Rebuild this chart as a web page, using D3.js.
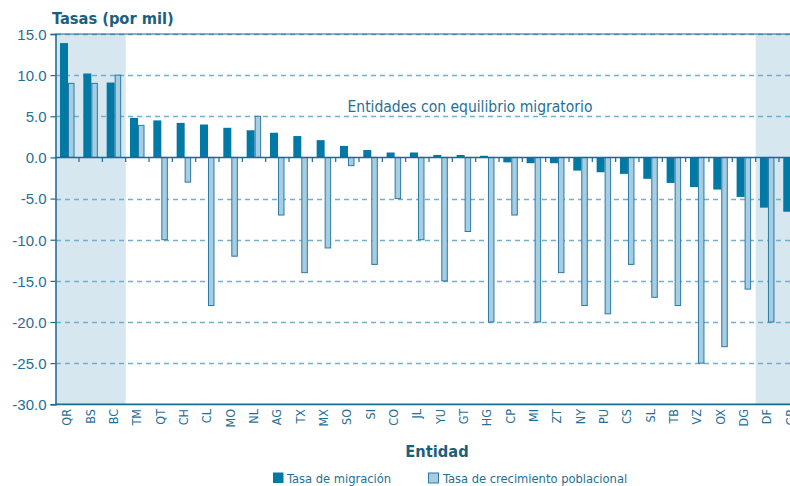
<!DOCTYPE html>
<html><head><meta charset="utf-8">
<script src="https://cdn.jsdelivr.net/npm/d3@7"></script>
<style>
html,body{margin:0;padding:0;background:#fff;overflow:hidden}
svg{display:block;font-family:"DejaVu Sans Condensed","DejaVu Sans",sans-serif}
</style></head>
<body><svg id="c" width="790" height="486"></svg>
<script>
const categories = ["QR","BS","BC","TM","QT","CH","CL","MO","NL","AG","TX","MX","SO","SI","CO","JL","YU","GT","HG","CP","MI","ZT","NY","PU","CS","SL","TB","VZ","OX","DG","DF","GR"];
const migracion = [13.9,10.2,9.1,4.8,4.5,4.2,4.0,3.6,3.3,3.0,2.6,2.1,1.4,0.9,0.6,0.6,0.3,0.3,0.2,-0.6,-0.7,-0.7,-1.6,-1.8,-2.0,-2.6,-3.1,-3.6,-3.9,-4.8,-6.1,-6.6];
const crecimiento = [9,9,10,3.9,-10,-3,-18,-12,5,-7,-14,-11,-1,-13,-5,-10,-15,-9,-20,-7,-20,-14,-18,-19,-13,-17,-18,-25,-23,-16,-20,-18];
const yTicks = [15,10,5,0,-5,-10,-15,-20,-25,-30];
const shadedLeft = ["QR","BS","BC"];
const shadedRight = ["DF","GR"];
const seriesNames = ["Tasa de migración","Tasa de crecimiento poblacional"];

const dark = "#0079a4", light = "#a6cde1", stroke = "#2a7aa5", shade = "#d7e7f0";
const textC = "#1f6f98", titleC = "#1b5f80", gridC = "#72b0cf", axisC = "#1a6a92";

const svg = d3.select("#c");
const x = d3.scaleBand().domain(categories).range([55.7, 802.3]).paddingInner(0).paddingOuter(0);
const y = d3.scaleLinear().domain([-30, 15]).range([404.3, 34]);
const bw = x.bandwidth();

// shaded regions
svg.append("rect").attr("x", x(shadedLeft[0])).attr("y", y(15))
  .attr("width", x(shadedLeft[shadedLeft.length-1]) + bw - x(shadedLeft[0])).attr("height", y(-30)-y(15)).attr("fill", shade);
svg.append("rect").attr("x", x(shadedRight[0])).attr("y", y(15))
  .attr("width", x(shadedRight[shadedRight.length-1]) + bw - x(shadedRight[0])).attr("height", y(-30)-y(15)).attr("fill", shade);

// grid
svg.append("g").selectAll("line").data(yTicks.filter(d => d !== 0 && d !== -30)).join("line")
  .attr("x1", 56).attr("x2", 790).attr("y1", d => Math.round(y(d))+0.5).attr("y2", d => Math.round(y(d))+0.5)
  .attr("stroke", gridC).attr("stroke-width", 1.3).attr("stroke-dasharray", "5,4");
// top frame solid
svg.append("line").attr("x1", 55).attr("x2", 790).attr("y1", y(15)).attr("y2", y(15)).attr("stroke", axisC).attr("stroke-width", 1);

// bars
const g = svg.append("g");
g.selectAll("rect.m").data(categories).join("rect").attr("class","m")
  .attr("x", d => x(d) + 4.3).attr("width", 8)
  .attr("y", (d,i) => y(Math.max(0, migracion[i])))
  .attr("height", (d,i) => Math.abs(y(migracion[i]) - y(0)))
  .attr("fill", dark);
g.selectAll("rect.c").data(categories).join("rect").attr("class","c")
  .attr("x", d => x(d) + 12.8).attr("width", 5.5)
  .attr("y", (d,i) => y(Math.max(0, crecimiento[i])))
  .attr("height", (d,i) => Math.abs(y(crecimiento[i]) - y(0)))
  .attr("fill", light).attr("stroke", stroke).attr("stroke-width", 1);

// zero line + ticks
svg.append("line").attr("x1", 55).attr("x2", 790).attr("y1", y(0)).attr("y2", y(0)).attr("stroke", axisC).attr("stroke-width", 1.5);
svg.append("g").selectAll("line").data(categories.slice(1)).join("line")
  .attr("x1", d => x(d)).attr("x2", d => x(d)).attr("y1", y(0)).attr("y2", y(0)+4.5)
  .attr("stroke", axisC).attr("stroke-width", 1.2);

// bottom axis
svg.append("line").attr("x1", 55).attr("x2", 790).attr("y1", y(-30)).attr("y2", y(-30)).attr("stroke", axisC).attr("stroke-width", 1.8);

// y axis
const yAxis = d3.axisLeft(y).tickValues(yTicks).tickFormat(d3.format(".1f")).tickSize(5).tickPadding(4);
const ya = svg.append("g").attr("transform", "translate(55.5,0)").call(yAxis);
ya.select(".domain").attr("stroke", axisC).attr("stroke-width", 1.5);
ya.selectAll(".tick line").attr("stroke", axisC).attr("stroke-width", 1.2);
ya.selectAll(".tick text").attr("fill", textC).attr("font-size", 15).attr("font-family", "inherit").attr("dy", "0.36em").text(d => d3.format(".1f")(d).replace("\u2212", "-"));

// x labels
svg.append("g").selectAll("text").data(categories).join("text")
  .attr("transform", d => `translate(${x(d) + bw/2 + 4},409) rotate(-90)`)
  .attr("text-anchor", "end").attr("fill", textC).attr("font-size", 12.5).text(d => d);

// titles
svg.append("text").attr("x", 52).attr("y", 24).attr("font-weight", "bold").attr("font-size", 16.3).attr("fill", titleC).text("Tasas (por mil)");
svg.append("text").attr("x", 437).attr("y", 457).attr("text-anchor", "middle").attr("font-weight", "bold").attr("font-size", 16.3).attr("fill", titleC).text("Entidad");
svg.append("text").attr("x", 470).attr("y", 112).attr("text-anchor", "middle").attr("font-size", 15.5).attr("fill", textC).text("Entidades con equilibrio migratorio");

// legend
const lg = svg.append("g");
lg.append("rect").attr("x", 273).attr("y", 472.5).attr("width", 10.5).attr("height", 10.5).attr("fill", dark);
lg.append("text").attr("x", 287).attr("y", 483).attr("font-size", 12.8).attr("fill", textC).text(seriesNames[0]);
lg.append("rect").attr("x", 428.5).attr("y", 473).attr("width", 10).attr("height", 10).attr("fill", light).attr("stroke", stroke).attr("stroke-width", 1);
lg.append("text").attr("x", 443).attr("y", 483).attr("font-size", 12.8).attr("fill", textC).text(seriesNames[1]);
</script></body></html>
